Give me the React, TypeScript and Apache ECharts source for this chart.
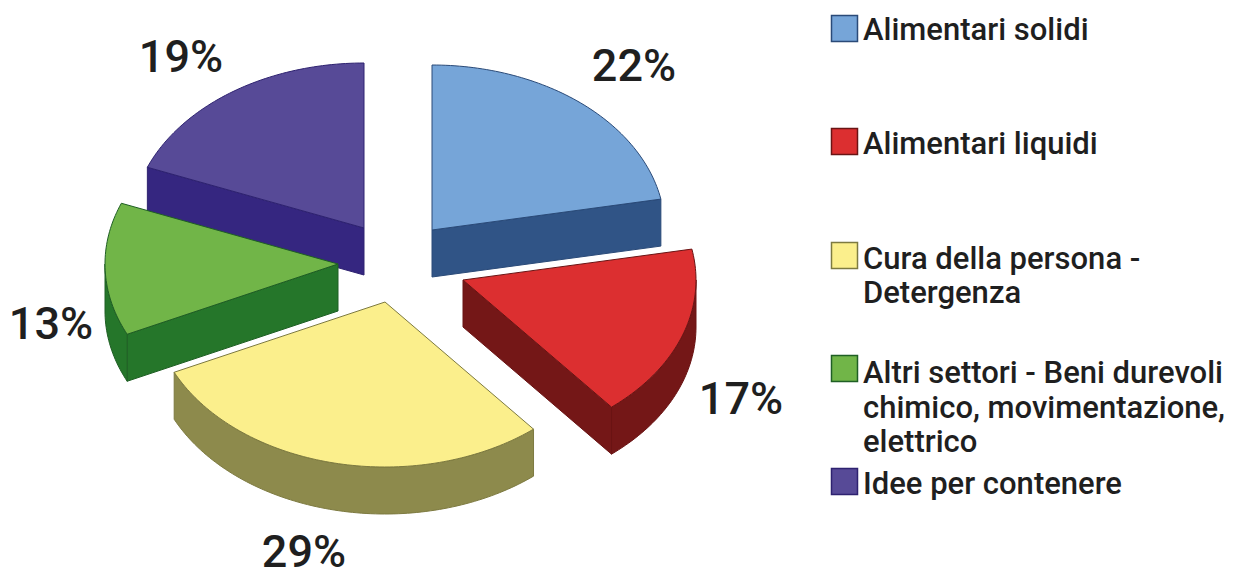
import React, { useEffect, useRef } from "react";
import * as echarts from "echarts";

// Sector shares, in percent, clockwise from twelve o'clock.
const categories = [
  "Alimentari solidi",
  "Alimentari liquidi",
  "Cura della persona - Detergenza",
  "Altri settori - Beni durevoli chimico, movimentazione, elettrico",
  "Idee per contenere",
];
const shares = [22, 17, 29, 13, 19];

// Wrapped legend captions, one list of lines per sector.
const legendLines = [
  ["Alimentari solidi"],
  ["Alimentari liquidi"],
  ["Cura della persona -", "Detergenza"],
  ["Altri settori - Beni durevoli", "chimico, movimentazione,", "elettrico"],
  ["Idee per contenere"],
];

// Colours of each wedge: lit top face, shaded wall, outline.
const topColors = ["#76a5d8", "#dc2f30", "#fbef8c", "#71b548", "#574a97"];
const wallColors = ["#305486", "#741717", "#8d8a4c", "#25762a", "#352680"];
const edgeColors = ["#2a4a78", "#6a1414", "#7d7a40", "#1f5f24", "#2e2270"];

// Layout of the tilted, exploded pie.
const CX = 400;
const CY = 265;
const RX = 233;
const RY = 165;
const DEPTH = 47;
const explode = [[32, -35], [63, 15], [-15, 37], [-62, -1], [-36, -37]];
const labelPos = [[634, 65], [741, 398], [304, 551], [51, 323], [181, 56]];
const drawOrder = [0, 4, 3, 1, 2];

const legendSwatchY = [15, 128, 242, 355, 468];
const legendLineY = [[29], [143], [258, 292], [372, 407, 441], [483]];

const FONT = "Roboto";
const INK = "#1f1f1f";

function arcPoints(ox: number, oy: number, from: number, to: number) {
  const pts: number[][] = [];
  const steps = Math.max(2, Math.ceil(Math.abs(to - from) / 0.02));
  for (let i = 0; i <= steps; i++) {
    const t = from + ((to - from) * i) / steps;
    pts.push([ox + RX * Math.sin(t), oy - RY * Math.cos(t)]);
  }
  return pts;
}

function renderWedge(_params: any, api: any) {
  const value = api.value(0);
  const before = api.value(1);
  const idx = api.value(2);
  const a0 = (before / 100) * Math.PI * 2;
  const a1 = ((before + value) / 100) * Math.PI * 2;
  const ox = CX + explode[idx][0];
  const oy = CY + explode[idx][1];
  const wallStyle = { fill: wallColors[idx], stroke: edgeColors[idx], lineWidth: 1 };
  const children: any[] = [];

  const radialWall = (t: number) => {
    const x = ox + RX * Math.sin(t);
    const y = oy - RY * Math.cos(t);
    children.push({
      type: "polygon",
      shape: { points: [[ox, oy], [x, y], [x, y + DEPTH], [ox, oy + DEPTH]] },
      style: wallStyle,
    });
  };

  // Only the walls that face the viewer are visible from above.
  if (Math.sin(a1) > 1e-6) radialWall(a1);
  if (Math.sin(a0) < -1e-6) radialWall(a0);

  const wallFrom = Math.max(a0, Math.PI / 2);
  const wallTo = Math.min(a1, (Math.PI * 3) / 2);
  if (wallTo > wallFrom) {
    const upper = arcPoints(ox, oy, wallFrom, wallTo);
    const lower = upper.map((p) => [p[0], p[1] + DEPTH]).reverse();
    children.push({
      type: "polygon",
      shape: { points: upper.concat(lower) },
      style: wallStyle,
    });
  }

  children.push({
    type: "polygon",
    shape: { points: [[ox, oy], ...arcPoints(ox, oy, a0, a1)] },
    style: { fill: topColors[idx], stroke: edgeColors[idx], lineWidth: 1 },
  });

  children.push({
    type: "text",
    style: {
      text: `${value}%`,
      x: labelPos[idx][0],
      y: labelPos[idx][1],
      fill: INK,
      fontFamily: FONT,
      fontSize: 45,
      fontWeight: 500,
      lineHeight: 36,
      align: "center",
      verticalAlign: "middle",
    },
  });

  return { type: "group", children };
}

function buildLegend() {
  const elements: any[] = [];
  legendLines.forEach((lines, i) => {
    elements.push({
      type: "rect",
      shape: { x: 831.5, y: legendSwatchY[i] + 0.5, width: 26, height: 26 },
      style: { fill: topColors[i], stroke: edgeColors[i], lineWidth: 1.5 },
    });
    lines.forEach((line, j) => {
      elements.push({
        type: "text",
        x: 863,
        y: legendLineY[i][j],
        style: {
          text: line,
          fill: INK,
          fontFamily: FONT,
          fontSize: 31,
          fontWeight: 500,
          align: "left",
          verticalAlign: "middle",
        },
      });
    });
  });
  return elements;
}

export default function App() {
  const ref = useRef<HTMLDivElement>(null);

  useEffect(() => {
    document.body.style.margin = "0";
    const chart = echarts.init(ref.current!, undefined, { renderer: "svg" });

    let running = 0;
    const rows = shares.map((v, i) => {
      const row = [v, running, i];
      running += v;
      return row;
    });

    chart.setOption({
      animation: false,
      backgroundColor: "#ffffff",
      graphic: { elements: buildLegend() },
      series: [
        {
          type: "custom",
          name: "Settori",
          coordinateSystem: "none",
          silent: true,
          renderItem: renderWedge,
          data: drawOrder.map((i) => ({ name: categories[i], value: rows[i] })),
        },
      ],
    });

    return () => chart.dispose();
  }, []);

  return <div ref={ref} style={{ width: 1240, height: 576 }} />;
}
